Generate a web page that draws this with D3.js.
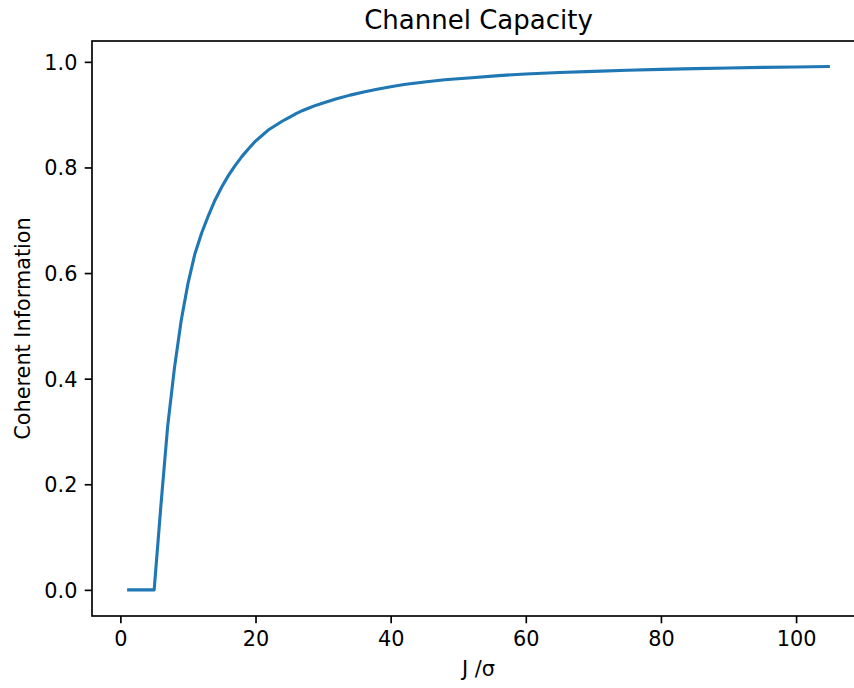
<!DOCTYPE html>
<html>
<head>
<meta charset="utf-8">
<script src="https://cdn.jsdelivr.net/npm/d3@7/dist/d3.min.js"></script>
<style>
  body { margin: 0; background: #fff; }
  text { font-family: "DejaVu Sans", sans-serif; fill: #000; }
</style>
</head>
<body>
<svg id="chart" width="854" height="688"></svg>
<script>
// Data
const jValues = [1, 2, 3, 4, 5, 6, 7, 8, 9, 10, 11, 12, 13, 14, 15, 16, 17, 18, 19, 20,
                 21, 22, 23, 24, 25, 26, 27, 28, 29, 30, 32, 34, 36, 38, 40, 42, 45, 48, 50, 52, 56, 60,
                 65, 70, 75, 80, 85, 90, 95, 100, 105];
const coherentInfo = [0, 0, 0, 0, 0, 0.16, 0.31, 0.42, 0.51, 0.58, 0.635, 0.675, 0.708, 0.738, 0.763, 0.785, 0.804, 0.821, 0.836, 0.85,
                      0.861, 0.872, 0.880, 0.888, 0.895, 0.902, 0.908, 0.913, 0.918, 0.922, 0.930, 0.937, 0.943, 0.948, 0.953, 0.957, 0.962, 0.966, 0.968, 0.970, 0.974, 0.977,
                      0.9797, 0.9820, 0.9840, 0.9857, 0.9872, 0.9884, 0.9895, 0.9904, 0.9912];
const xTicks = [0, 20, 40, 60, 80, 100];
const yTicks = [0.0, 0.2, 0.4, 0.6, 0.8, 1.0];
const titleText = "Channel Capacity";
const xLabelText = "J /σ";
const yLabelText = "Coherent Information";

(function () {
const svg = d3.select("#chart");
const mLeft = 92, mRight = 865, mTop = 41, mBottom = 616;

const x = d3.scaleLinear().domain([-4.2, 110.2]).range([mLeft, mRight]);
const y = d3.scaleLinear().domain([-0.0495, 1.0395]).range([mBottom, mTop]);

svg.append("defs").append("clipPath").attr("id", "clip")
  .append("rect").attr("x", mLeft).attr("y", mTop).attr("width", mRight - mLeft).attr("height", mBottom - mTop);

const data = jValues.map((j, i) => [j, coherentInfo[i]]);

svg.append("path")
  .datum(data)
  .attr("clip-path", "url(#clip)")
  .attr("fill", "none")
  .attr("stroke", "#1f77b4")
  .attr("stroke-width", 3.1)
  .attr("stroke-linejoin", "round")
  .attr("stroke-linecap", "butt")
  .attr("d", d3.line().x(d => x(d[0])).y(d => y(d[1])));

// Axes
const fontSize = 20.8;
const xAxis = d3.axisBottom(x).tickValues(xTicks).tickFormat(d3.format("d")).tickSize(7.3).tickPadding(7.3);
const yAxis = d3.axisLeft(y).tickValues(yTicks).tickFormat(d3.format(".1f")).tickSize(7.3).tickPadding(7.3);

const gx = svg.append("g").attr("transform", `translate(0,${mBottom})`).call(xAxis);
const gy = svg.append("g").attr("transform", `translate(${mLeft},0)`).call(yAxis);

[gx, gy].forEach(g => {
  g.select(".domain").remove();
  g.selectAll(".tick line").attr("stroke", "#000").attr("stroke-width", 1.67);
  g.selectAll(".tick text").attr("font-size", fontSize).attr("font-family", "DejaVu Sans").attr("fill", "#000");
});
gx.selectAll(".tick text").attr("dy", null).attr("y", 7.3 + 7.3 + 15.5);
gy.selectAll(".tick text").attr("dy", "0.36em");

// Spines
svg.append("rect").attr("x", mLeft).attr("y", mTop).attr("width", mRight - mLeft).attr("height", mBottom - mTop)
  .attr("stroke", "#000").attr("stroke-width", 1.67).attr("fill", "none");

// Title and labels
svg.append("text").attr("x", (mLeft + mRight) / 2).attr("y", 28.5)
  .attr("text-anchor", "middle").attr("font-size", 26).text(titleText);

svg.append("text").attr("x", (mLeft + mRight) / 2).attr("y", 676)
  .attr("text-anchor", "middle").attr("font-size", fontSize).text(xLabelText);

svg.append("text").attr("transform", `translate(30,${(mTop + mBottom) / 2}) rotate(-90)`)
  .attr("text-anchor", "middle").attr("font-size", fontSize).text(yLabelText);
})();
</script>
</body>
</html>
